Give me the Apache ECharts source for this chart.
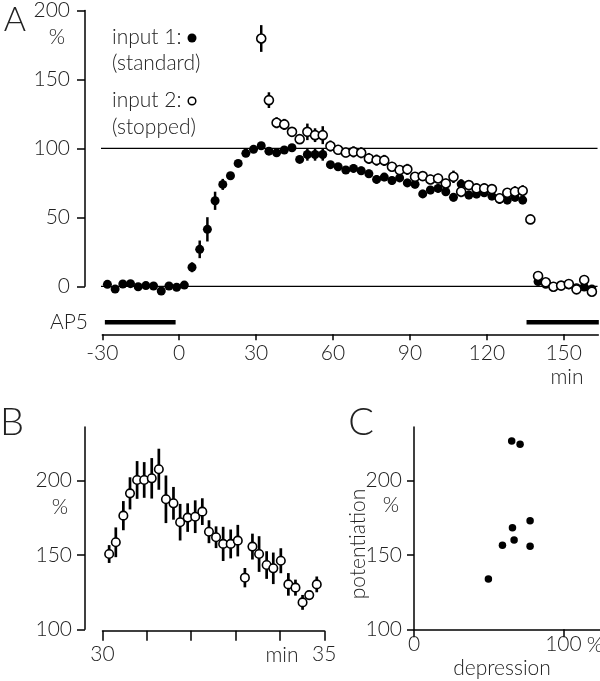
<!DOCTYPE html>
<html>
<head>
<meta charset="utf-8">
<script src="https://cdn.jsdelivr.net/npm/echarts@6/dist/echarts.min.js"></script>
<style>
html,body{margin:0;padding:0;background:#fff;}
#c{width:600px;height:681px;}
</style>
</head>
<body>
<div id="c"></div>
<script>
// ---------- Panel A data ----------
var tInput1 = [-28,-25,-22,-19,-16,-13,-10,-7,-4,-1,2,5,8,11,14,17,20,23,26,29,32,35,38,41,44,47,50,53,56,59,62,65,68,71,74,77,80,83,86,89,92,95,98,101,104,107,110,113,116,119,122,125,128,131,134,140,143,146,149,152,155,158,161];
var vInput1 = [1.4,-2,1.7,1.9,-0.3,0.5,0.2,-3.4,0.2,-0.7,0.9,13.8,26.8,41.3,62.0,73.9,80.2,89.1,96.4,99.3,101.9,98,96.8,98.8,100.5,92,95.6,95.6,95.6,88.2,86.7,84.3,85.5,83.8,81.6,77.5,79.2,76.7,78.6,75,74,67,69.8,71,68.6,64.5,74.1,66.2,66.9,67.8,65.4,63,62.5,64.5,62.5,3.4,1.5,-0.5,0.5,1,-1,-0.5,-2];
var eInput1 = [1.5,1.5,1.5,1.5,1.5,1.5,1.5,1.5,1.5,1.5,1.5,3.6,6.4,8.8,6.6,4,2.5,2.5,2.5,2.5,2.5,2.5,2.5,2.5,2.5,2.5,4.5,4.5,4.5,2.5,2.5,2.5,3,3,3,3,3,3,3,3,3,3,3,3,3,3,3.5,3,3,3,3,3,3,3,3,1.5,1.5,1.5,1.5,1.5,1.5,1.5,1.5];

var tInput2 = [32,35,38,41,44,47,50,53,56,59,62,65,68,71,74,77,80,83,86,89,92,95,98,101,104,107,110,113,116,119,122,125,128,131,134,137,140,143,146,149,152,155,158,161];
var vInput2 = [179.7,135,118.6,117.4,112,106.7,112,109.6,109.6,101.7,99,97,97.5,96.8,92.7,91.5,91.3,86.7,84.3,84.8,79.4,79.9,77.5,78.2,74.6,79.4,68.6,73.4,71,71,70.5,63.8,67.8,68.6,69.3,48.5,7.5,2.9,-0.3,0.5,1.7,-2.2,4.6,-3.9];
var eInput2 = [9.7,5.7,4,4,3.5,3.5,6,5,6.5,4,3.5,3.5,4,4,4,4,4,3.5,3.5,4,3.5,3.5,3.5,3.5,3.5,4.5,4,3.5,3.5,3.5,3.5,3.5,3.5,4,4,2,1.5,1.5,1.5,1.5,1.5,1.5,1.5,1.5];

var referenceLevels = [0, 100];
var ap5Periods = [[-29, -1.4], [135.5, 163.7]];
var ap5Level = -26;

var xTicksA = [-30,0,30,60,90,120,150];
var yTicksA = [0,50,100,150,200];

// ---------- Panel B data ----------
var tB = [30.15,30.30,30.47,30.62,30.78,30.94,31.11,31.27,31.43,31.60,31.75,31.92,32.09,32.25,32.40,32.56,32.72,32.89,33.05,33.21,33.38,33.53,33.70,33.85,34.02,34.19,34.35,34.51,34.66,34.83];
var vB = [150.6,158.5,176.4,191.4,200.4,200.4,201.5,207.6,187.4,184.7,172,175.1,175.7,179.1,165.6,161.9,157.4,157.4,159.6,134.7,155.6,150.6,143.2,141,146.1,130.2,128,118.1,123,130.2];
var eB = [6,10,9.8,10.8,12.7,12,13.6,13.8,16,11,12.3,9.6,11,9,7.7,7.3,11.5,9.7,10.6,6.5,8.7,12,9.3,10.6,8.4,7.6,5.4,5,3,5.3];
var xTicksB = [30,31,32,33,34,35];
var xLabelsB = [30,35];
var yTicksBC = [100,150,200];

// ---------- Panel C data ----------
var depression = [65.4,71,77.7,65.9,59.2,67,77.7,49.8];
var potentiation = [226.6,224.4,173,168.3,156.5,160,155.8,133.8];
var xTicksC = [0,100];

// ---------- helpers ----------
var FONT = 'Lato, "Open Sans", "DejaVu Sans", sans-serif';
var FS = 21;
var TXT = '#222';
function pts(t, v){ return t.map(function(x,i){ return [x, v[i]]; }); }
function errs(t, v, e){ return t.map(function(x,i){ return [x, v[i]-e[i], v[i]+e[i]]; }); }
function errRender(w){
  return function(params, api){
    var x = api.value(0);
    var p1 = api.coord([x, api.value(1)]);
    var p2 = api.coord([x, api.value(2)]);
    return {type:'line', shape:{x1:p1[0], y1:p1[1], x2:p2[0], y2:p2[1]}, style:{stroke:'#000', lineWidth:w}};
  };
}
function axisBase(extra){
  var o = {
    type:'value',
    axisLine:{show:true, onZero:false, lineStyle:{color:'#000', width:1.5}},
    splitLine:{show:false}
  };
  for (var k in extra) o[k] = extra[k];
  return o;
}
function ticks(len, vals){ return {show:true, length:len, lineStyle:{color:'#000', width:1.5}, customValues:vals}; }
function labels(margin, vals){ return {color:TXT, fontFamily:FONT, fontSize:FS, fontWeight:300, margin:margin, customValues:vals}; }

var chart = echarts.init(document.getElementById('c'), null, {renderer:'canvas'});

var series = [];
referenceLevels.forEach(function(lv){
  series.push({type:'line', xAxisIndex:0, yAxisIndex:0, data:[[-31.7, lv],[163.2, lv]], showSymbol:false, clip:false, silent:true,
    lineStyle:{color:'#000', width:1.3}, z:1});
});
ap5Periods.forEach(function(p){
  series.push({type:'line', xAxisIndex:0, yAxisIndex:0, data:[[p[0], ap5Level],[p[1], ap5Level]], showSymbol:false, clip:false, silent:true,
    lineStyle:{color:'#000', width:4.5, cap:'butt'}, z:1});
});
var filledStyle = {color:'#000', opacity:1};
var openStyle = {color:'#fff', borderColor:'#000', borderWidth:1.6, opacity:1};
series.push({type:'custom', xAxisIndex:0, yAxisIndex:0, data:errs(tInput1, vInput1, eInput1), renderItem:errRender(2.5), encode:{x:0, y:[1,2]}, z:2, silent:true, clip:false});
series.push({type:'scatter', xAxisIndex:0, yAxisIndex:0, data:pts(tInput1, vInput1), symbol:'circle', symbolSize:9, itemStyle:filledStyle, z:3, silent:true, clip:false});
series.push({type:'custom', xAxisIndex:0, yAxisIndex:0, data:errs(tInput2, vInput2, eInput2), renderItem:errRender(2.5), encode:{x:0, y:[1,2]}, z:4, silent:true, clip:false});
series.push({type:'scatter', xAxisIndex:0, yAxisIndex:0, data:pts(tInput2, vInput2), symbol:'circle', symbolSize:9, itemStyle:openStyle, z:5, silent:true, clip:false});
series.push({type:'custom', xAxisIndex:1, yAxisIndex:1, data:errs(tB, vB, eB), renderItem:errRender(2.7), encode:{x:0, y:[1,2]}, z:2, silent:true, clip:false});
series.push({type:'scatter', xAxisIndex:1, yAxisIndex:1, data:pts(tB, vB), symbol:'circle', symbolSize:8.5, itemStyle:openStyle, z:3, silent:true, clip:false});
series.push({type:'scatter', xAxisIndex:2, yAxisIndex:2, data:pts(depression, potentiation), symbol:'circle', symbolSize:7.5, itemStyle:filledStyle, z:3, silent:true, clip:false});

function txt(text, x, y, size, align, extra){
  var o = {type:'text', x:x, y:y, silent:true, style:{text:text, fill:TXT, font:'300 ' + size + 'px ' + FONT, align:align||'center', verticalAlign:'middle'}};
  if (extra) for (var k in extra) o[k] = extra[k];
  return o;
}

var option = {
  animation:false,
  backgroundColor:'#fff',
  grid:[
    {left:102.3, top:10, width:496, height:276.3},
    {left:102.5, top:427, width:221.8, height:202.3},
    {left:414, top:427, width:186, height:202.3}
  ],
  xAxis:[
    axisBase({gridIndex:0, min:-30, max:163.5, offset:48, axisTick:ticks(6, xTicksA), axisLabel:labels(8, xTicksA)}),
    axisBase({gridIndex:1, min:30, max:35, offset:1.5, axisTick:ticks(10, xTicksB), axisLabel:labels(13, xLabelsB)}),
    axisBase({gridIndex:2, min:0, max:124.5, axisTick:ticks(8, xTicksC), axisLabel:labels(4, xTicksC)})
  ],
  yAxis:[
    axisBase({gridIndex:0, min:0, max:200, offset:17.3, axisTick:ticks(8, yTicksA), axisLabel:labels(15, yTicksA)}),
    axisBase({gridIndex:1, min:100, max:236, offset:17.5, axisTick:ticks(8, yTicksBC), axisLabel:labels(13, yTicksBC)}),
    axisBase({gridIndex:2, min:100, max:236, axisTick:ticks(7, yTicksBC), axisLabel:labels(12, yTicksBC)})
  ],
  graphic:[
    txt('A', 15, 20, 34),
    txt('%', 57, 37, FS),
    txt('input 1:', 112, 37, FS, 'left'),
    txt('(standard)', 112, 63, FS, 'left'),
    txt('input 2:', 112, 100, FS, 'left'),
    txt('(stopped)', 112, 127, FS, 'left'),
    {type:'circle', silent:true, shape:{cx:192, cy:38, r:4.5}, style:{fill:'#000'}},
    {type:'circle', silent:true, shape:{cx:192, cy:101, r:3.8}, style:{fill:'#fff', stroke:'#000', lineWidth:1.5}},
    txt('AP5', 88, 322, FS, 'right'),
    txt('min', 567, 377, FS),
    txt('B', 12, 423, 38),
    txt('%', 60, 507, FS),
    txt('min', 282, 655, FS),
    txt('C', 361, 423, 38),
    txt('%', 391, 505, FS),
    txt('potentiation', 358, 544, FS, 'center', {rotation:Math.PI/2}),
    txt('depression', 502, 668, FS),
    txt('%', 595, 645, FS)
  ],
  series:series
};
chart.setOption(option);
</script>
</body>
</html>
